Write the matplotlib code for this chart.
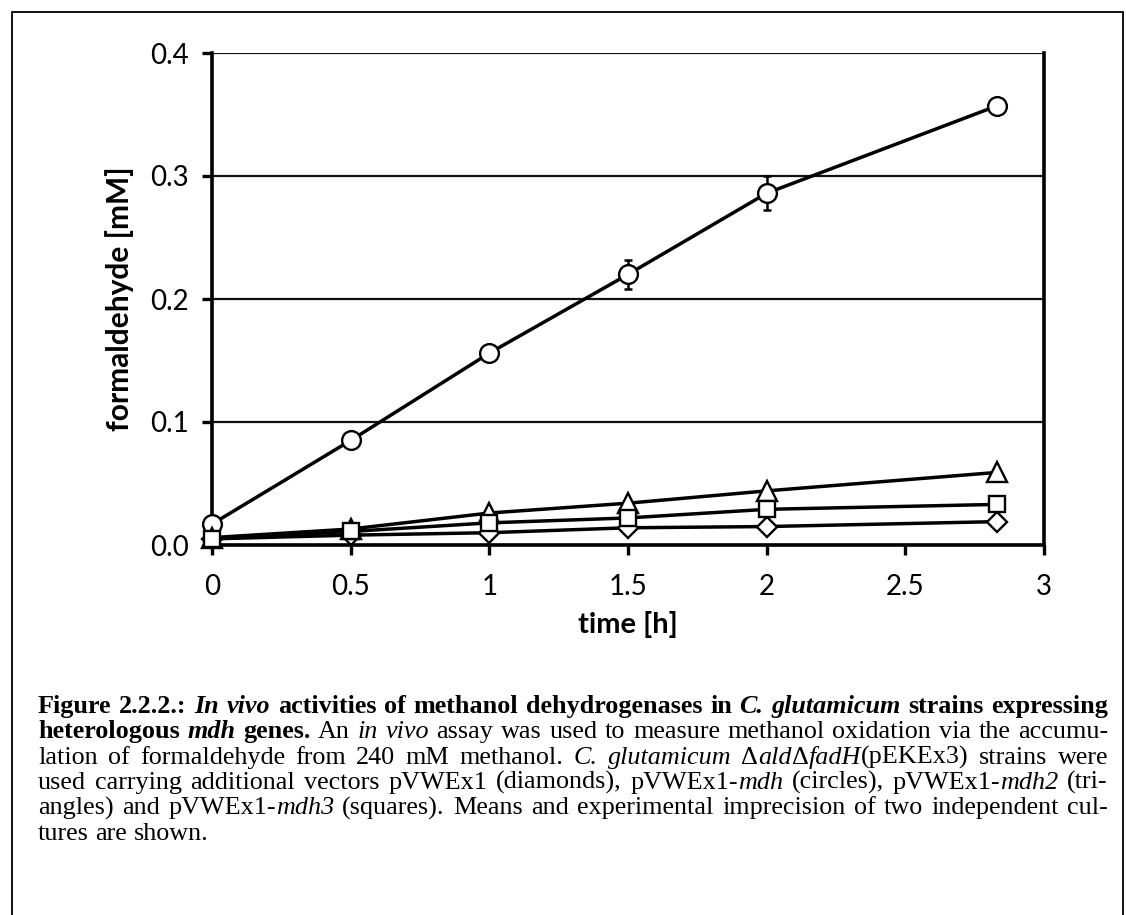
import matplotlib
matplotlib.use("Agg")
import matplotlib.pyplot as plt
from matplotlib.transforms import IdentityTransform
from matplotlib.patches import Rectangle

# ---------------- data ----------------
time_h = [0, 0.5, 1, 1.5, 2, 2.83]
diamonds = [0.005, 0.008, 0.010, 0.014, 0.015, 0.019]   # pVWEx1
circles = [0.017, 0.085, 0.156, 0.220, 0.286, 0.357]     # pVWEx1-mdh
circles_err = [0.002, 0.002, 0.003, 0.012, 0.014, 0.003]
triangles = [0.006, 0.013, 0.026, 0.034, 0.044, 0.059]   # pVWEx1-mdh2
squares = [0.005, 0.011, 0.018, 0.022, 0.029, 0.033]     # pVWEx1-mdh3

x_ticks = [0, 0.5, 1, 1.5, 2, 2.5, 3]
x_tick_labels = ["0", "0.5", "1", "1.5", "2", "2.5", "3"]
y_ticks = [0.0, 0.1, 0.2, 0.3, 0.4]
y_tick_labels = ["0.0", "0.1", "0.2", "0.3", "0.4"]
x_label = "time [h]"
y_label = "formaldehyde [mM]"

# caption: lines -> words -> segments (text, style)
caption_lines = [
    [[("Figure", "b")], [("2.2.2.:", "b")], [("In", "bi")], [("vivo", "bi")],
     [("activities", "b")], [("of", "b")], [("methanol", "b")], [("dehydrogenases", "b")],
     [("in", "b")], [("C.", "bi")], [("glutamicum", "bi")], [("strains", "b")], [("expressing", "b")]],
    [[("heterologous", "b")], [("mdh", "bi")], [("genes.", "b")], [("An", "r")], [("in", "i")],
     [("vivo", "i")], [("assay", "r")], [("was", "r")], [("used", "r")], [("to", "r")],
     [("measure", "r")], [("methanol", "r")], [("oxidation", "r")], [("via", "r")],
     [("the", "r")], [("accumu-", "r")]],
    [[("lation", "r")], [("of", "r")], [("formaldehyde", "r")], [("from", "r")], [("240", "r")],
     [("mM", "r")], [("methanol.", "r")], [("C.", "i")], [("glutamicum", "i")],
     [("\u0394", "r"), ("ald", "i"), ("\u0394", "r"), ("fadH", "i"), ("(pEKEx3)", "r")],
     [("strains", "r")], [("were", "r")]],
    [[("used", "r")], [("carrying", "r")], [("additional", "r")], [("vectors", "r")],
     [("pVWEx1", "r")], [("(diamonds),", "r")], [("pVWEx1-", "r"), ("mdh", "i")],
     [("(circles),", "r")], [("pVWEx1-", "r"), ("mdh2", "i")], [("(tri-", "r")]],
    [[("angles)", "r")], [("and", "r")], [("pVWEx1-", "r"), ("mdh3", "i")], [("(squares).", "r")],
     [("Means", "r")], [("and", "r")], [("experimental", "r")], [("imprecision", "r")],
     [("of", "r")], [("two", "r")], [("independent", "r")], [("cul-", "r")]],
    [[("tures", "r")], [("are", "r")], [("shown.", "r")]],
]

# ---------------- figure ----------------
W, H = 1126, 915
fig = plt.figure(figsize=(W / 100, H / 100), dpi=100)
fig.patch.set_facecolor("white")

# outer frame
fig.patches.append(Rectangle((11.5, -20), 1123 - 11.5, (H - 12) + 20, transform=IdentityTransform(),
                             fill=False, edgecolor="black", linewidth=1.3))

ax_l, ax_r, ax_t, ax_b = 212, 1044, 53, 545
ax = fig.add_axes([ax_l / W, 1 - ax_b / H, (ax_r - ax_l) / W, (ax_b - ax_t) / H])

tick_font = "Lato"
ax.set_xlim(0, 3)
ax.set_ylim(0, 0.4)
ax.set_xticks(x_ticks)
ax.set_xticklabels(x_tick_labels, fontsize=20, family=tick_font)
ax.set_yticks(y_ticks)
ax.set_yticklabels(y_tick_labels, fontsize=20, family=tick_font)
ax.tick_params(axis="x", direction="out", length=7.5, width=2.4, pad=13.5, color="black")
ax.tick_params(axis="y", direction="out", length=7.5, width=2.4, pad=9, color="black")
ax.set_xlabel(x_label, fontsize=21, family=tick_font, fontweight="bold", labelpad=8)
ax.set_ylabel(y_label, fontsize=21.5, family=tick_font, fontweight="bold", labelpad=12)

for side in ["left", "bottom", "right"]:
    ax.spines[side].set_linewidth(2.6)
    ax.spines[side].set_color("black")
ax.spines["top"].set_visible(False)
ax.yaxis.grid(True, color="#111111", linewidth=1.6)
ax.set_axisbelow(True)

lw = 2.5
mew = 1.7
ax.errorbar(time_h, circles, yerr=circles_err, fmt="none", ecolor="black",
            elinewidth=1.8, capsize=3, capthick=1.8, zorder=2)
ax.plot(time_h, diamonds, color="black", lw=lw, marker="D", ms=10.5,
        mfc="white", mec="black", mew=mew, zorder=3, clip_on=False)
ax.plot(time_h, circles, color="black", lw=lw, marker="o", ms=13.5,
        mfc="white", mec="black", mew=mew, zorder=4, clip_on=False)
ax.plot(time_h, triangles, color="black", lw=lw, marker="^", ms=14,
        mfc="white", mec="black", mew=mew, zorder=5, clip_on=False)
ax.plot(time_h, squares, color="black", lw=lw, marker="s", ms=11.5,
        mfc="white", mec="black", mew=mew, zorder=6, clip_on=False)

# ---------------- justified caption ----------------
styles = {"r": ("normal", "normal"), "b": ("bold", "normal"),
          "i": ("normal", "italic"), "bi": ("bold", "italic")}
cap_size = 18.8
left_x, right_x = 38, 1108
base_y0, line_gap = 713, 25.3

renderer = fig.canvas.get_renderer()
space_t = fig.text(0, 0, "a a", fontsize=cap_size, family="Liberation Serif")
aa_t = fig.text(0, 0, "aa", fontsize=cap_size, family="Liberation Serif")
space_w = (space_t.get_window_extent(renderer).width - aa_t.get_window_extent(renderer).width)
space_t.remove()
aa_t.remove()

for li, words in enumerate(caption_lines):
    y = H - (base_y0 + li * line_gap)
    word_objs = []
    for word in words:
        segs = []
        for txt, st in word:
            wgt, sty = styles[st]
            t = fig.text(0, y, txt, fontsize=cap_size, family="Liberation Serif",
                         fontweight=wgt, fontstyle=sty, va="baseline", ha="left",
                         transform=IdentityTransform())
            segs.append((t, t.get_window_extent(renderer).width))
        word_objs.append(segs)
    widths = [sum(w for _, w in segs) for segs in word_objs]
    last = li == len(caption_lines) - 1
    if last or len(words) == 1:
        gap = space_w
    else:
        gap = (right_x - left_x - sum(widths)) / (len(words) - 1)
    x = left_x
    for segs, ww in zip(word_objs, widths):
        xx = x
        for t, w in segs:
            t.set_x(xx)
            xx += w
        x += ww + gap

fig.savefig("out.png", dpi=100, facecolor="white")
